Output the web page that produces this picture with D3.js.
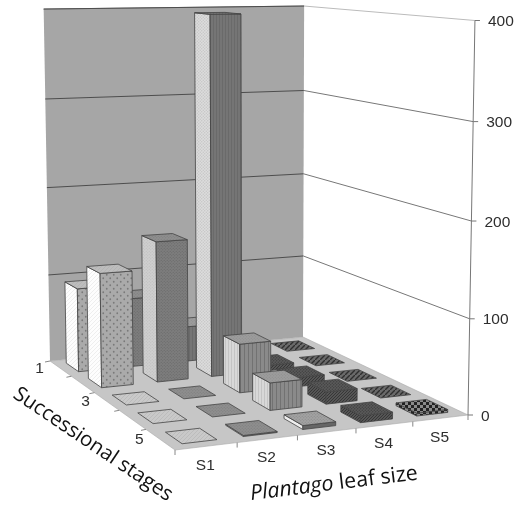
<!DOCTYPE html>
<html><head><meta charset="utf-8">
<script src="https://cdn.jsdelivr.net/npm/d3@7"></script>
<style>html,body{margin:0;padding:0;background:#fff}svg{display:block;filter:blur(0.35px)}</style></head>
<body><svg id="c" width="516" height="510"></svg>
<script>
const sizes = ["S1","S2","S3","S4","S5"];
const stages = ["1","2","3","4","5"];
const stageLabels = ["1","3","5"];
const yTicks = [0,100,200,300,400];
const valuesS1 = [94,125,0,0,0];
const valuesS2 = [78,155,0,0,1];
const valuesS3 = [40,398,53,29,4];
const valuesS4 = [0,6,10,13,7];
const valuesS5 = [0,0,0,0,3];
const series = [valuesS1,valuesS2,valuesS3,valuesS4,valuesS5];

const svg=d3.select("#c");
const defs=svg.append("defs");
function pat(id,size,bg,draw){
  const p=defs.append("pattern").attr("id",id).attr("patternUnits","userSpaceOnUse").attr("width",size).attr("height",size);
  p.append("rect").attr("width",size).attr("height",size).attr("fill",bg);
  draw(p);
}
const dots=(c,r,s)=>p=>{p.append("circle").attr("cx",s/4).attr("cy",s/4).attr("r",r).attr("fill",c);p.append("circle").attr("cx",3*s/4).attr("cy",3*s/4).attr("r",r).attr("fill",c);};
const vl=(c,s,w)=>p=>{p.append("rect").attr("width",w).attr("height",s).attr("fill",c);};
const diag=(c,s,w)=>p=>{p.append("path").attr("d",`M0,${s}L${s},0`).attr("stroke",c).attr("stroke-width",w);};
pat("a1",4,"#fdfdfd",diag("#e8e8e8",4,.7));
pat("a2",7,"#aaaaaa",dots("#7a7a7a",.9,7));
pat("aT",4,"#bdbdbd",diag("#b0b0b0",4,.7));
pat("aF",4,"#c9c9c9",diag("#b9b9b9",4,.8));
pat("b1",3,"#cfcfcf",dots("#bcbcbc",.6,3));
pat("b2",3,"#7d7d7d",dots("#666",.6,3));
pat("bF",3,"#8e8e8e",dots("#7d7d7d",.6,3));
pat("c1",3,"#dcdcdc",dots("#c4c4c4",.7,3));
pat("c2",3,"#757575",vl("#6a6a6a",3,1));
pat("d1",3,"#d8d8d8",vl("#c4c4c4",3,1));
pat("d2",4,"#8a8a8a",vl("#727272",4,1));
pat("dT",3,"#9c9c9c",dots("#8d8d8d",.6,3));
pat("e1",3,"#555",diag("#333",3,.9));
pat("eT",3,"#5a5a5a",dots("#3e3e3e",.7,3));
pat("eM",3,"#a2a2a2",dots("#888",.6,3));
pat("g",5,"#6a6a6a",diag("#2f2f2f",5,1.4));
pat("h",6,"#8a8a8a",p=>{p.append("rect").attr("width",3).attr("height",3).attr("fill","#222");p.append("rect").attr("x",3).attr("y",3).attr("width",3).attr("height",3).attr("fill","#222");});

const faceStyles = {
 "0,0":["a1","a2","aT"],"0,1":["a1","a2","aT"],"0,2":["a1","a1","aF"],"0,3":["a1","a1","aF"],"0,4":["a1","a1","aF"],
 "1,0":["b1","b2","bF"],"1,1":["b1","b2","bF"],"1,2":["b1","b2","bF"],"1,3":["b1","b2","bF"],"1,4":["b1","b2","bF"],
 "2,0":["c1","c2","dT"],"2,1":["c1","c2","c2"],"2,2":["d1","d2","dT"],"2,3":["d1","d2","dT"],"2,4":["#eee","#666","eM"],
 "3,0":["e1","e1","eT"],"3,1":["e1","e1","eT"],"3,2":["e1","e1","eT"],"3,3":["e1","e1","eT"],"3,4":["e1","e1","eT"],
 "4,0":["g","g","g"],"4,1":["g","g","g"],"4,2":["g","g","g"],"4,3":["g","g","g"],"4,4":["h","h","h"]
};

/* camera calibrated on the chart box */
const quad=[[50,361],[303,337],[468,415],[175,450]];
function homography(q){
  const [[x0,y0],[x1,y1],[x2,y2],[x3,y3]]=q;
  const dx1=x1-x2,dx2=x3-x2,sx=x0-x1+x2-x3,dy1=y1-y2,dy2=y3-y2,sy=y0-y1+y2-y3;
  const den=dx1*dy2-dx2*dy1;
  const g=(sx*dy2-dx2*sy)/den,h=(dx1*sy-sx*dy1)/den;
  return {a:x1-x0+g*x1,b:x3-x0+h*x3,c:x0,d:y1-y0+g*y1,e:y3-y0+h*y3,f:y0,g,h};
}
const M=homography(quad);
const tops=[[0,0,44,13,1],[1,0,303,9,1],[1,1,475,20,4]];
function solve3(A,b){
  const m=A.map((r,i)=>[...r,b[i]]);
  for(let i=0;i<3;i++){let p=i;for(let k=i+1;k<3;k++)if(Math.abs(m[k][i])>Math.abs(m[p][i]))p=k;[m[i],m[p]]=[m[p],m[i]];
    for(let k=0;k<3;k++)if(k!==i){const f=m[k][i]/m[i][i];for(let j=i;j<4;j++)m[k][j]-=f*m[i][j];}}
  return m.map((r,i)=>r[3]/r[i]);
}
const rows=[];const rhs=[];
tops.forEach(([u,v,x,y,wgt])=>{
  const X=M.a*u+M.b*v+M.c,Y=M.d*u+M.e*v+M.f,Wt=M.g*u+M.h*v+1;
  rows.push([wgt,0,-x*wgt]);rhs.push((x*Wt-X)*wgt);
  rows.push([0,wgt,-y*wgt]);rhs.push((y*Wt-Y)*wgt);
});
const ATA=[0,1,2].map(i=>[0,1,2].map(j=>d3.sum(rows,r=>r[i]*r[j])));
const ATb=[0,1,2].map(i=>d3.sum(rows,(r,k)=>r[i]*rhs[k]));
const [pA,pB,pC]=solve3(ATA,ATb);
function P(u,v,t){
  const w=M.g*u+M.h*v+1+pC*t;
  return [(M.a*u+M.b*v+M.c+pA*t)/w,(M.d*u+M.e*v+M.f+pB*t)/w];
}
const xBand=d3.scaleBand().domain(sizes).range([0,1]).paddingInner(0.435).paddingOuter(0.2175);
const zBand=d3.scaleBand().domain(stages).range([0,1]).paddingInner(0.435).paddingOuter(0.2175);
const yS=d3.scaleLinear().domain([0,400]).range([0,1]);
const poly=pts=>"M"+pts.map(p=>p.map(n=>n.toFixed(2)).join(",")).join("L")+"Z";
const line=(a,b)=>`M${a[0]},${a[1]}L${b[0]},${b[1]}`;
const g=svg.append("g");

g.append("path").attr("d",poly([P(0,0,0),P(1,0,0),P(1,0,1),P(0,0,1)])).attr("fill","#a6a6a6");
g.append("path").attr("d",poly([P(0,0,0),P(1,0,0),P(1,1,0),P(0,1,0)])).attr("fill","#c6c6c6").attr("stroke","#aaa").attr("stroke-width",.6);
g.append("path").attr("d",line(P(0,0,1),P(1,0,1))).attr("stroke","#8a8a8a").attr("stroke-width",1);
yTicks.filter(d=>d>0).forEach(d=>{
  const t=yS(d);
  g.append("path").attr("d",line(P(0,0,t),P(1,0,t))).attr("stroke","#4d4d4d").attr("stroke-width",1).attr("fill","none");
  g.append("path").attr("d",line(P(1,0,t),P(1,1,t))).attr("stroke",d===400?"#bbb":"#777").attr("stroke-width",1).attr("fill","none");
});
g.append("path").attr("d",line(P(1,1,0),P(1,1,1))).attr("stroke","#777").attr("stroke-width",1);
yTicks.forEach(d=>{
  const t=yS(d),p=P(1,1,t);
  g.append("path").attr("d",line(p,[p[0]+5,p[1]])).attr("stroke","#777");
  g.append("text").attr("x",p[0]+13).attr("y",p[1]+5.5).attr("font-family","Liberation Sans").attr("font-size",15.5).attr("fill","#2e2e2e").text(d);
});
sizes.forEach((s,i)=>{
  const p=P(i/5,1,0);
  g.append("path").attr("d",line(p,[p[0],p[1]+5])).attr("stroke","#888");
});
{const p=P(1,1,0);g.append("path").attr("d",line(p,[p[0],p[1]+5])).attr("stroke","#888");}
sizes.forEach(s=>{
  const u=xBand(s)+xBand.bandwidth()/2,p=P(u,1,0);
  g.append("text").attr("x",p[0]-1).attr("y",p[1]+23.5).attr("text-anchor","middle").attr("font-family","Liberation Sans").attr("font-size",15.5).attr("fill","#2e2e2e").text(s);
});
stages.forEach((s,i)=>{
  const p=P(0,i/5,0);
  g.append("path").attr("d",line(p,[p[0]-5,p[1]+1])).attr("stroke","#888");
});
stageLabels.forEach(s=>{
  const v=zBand(s)+zBand.bandwidth()/2,p=P(0,v,0);
  g.append("text").attr("x",p[0]-21).attr("y",p[1]+5).attr("text-anchor","middle").attr("font-family","Liberation Sans").attr("font-size",15.5).attr("fill","#2e2e2e").text(s);
});

const cells=[];
stages.forEach((st,r)=>{ for(let c=sizes.length-1;c>=0;c--) cells.push({c,r,val:series[c][r]}); });
const fill=k=>k.startsWith("#")?k:`url(#${k})`;
cells.forEach(d=>{
  const u0=xBand(sizes[d.c]),u1=u0+xBand.bandwidth(),v0=zBand(stages[d.r]),v1=v0+zBand.bandwidth(),t=yS(d.val);
  const st=faceStyles[d.c+","+d.r];
  const bg=g.append("g").attr("stroke","#444").attr("stroke-width",.8).attr("stroke-linejoin","round");
  if(d.val>0){
    bg.append("path").attr("d",poly([P(u0,v0,0),P(u0,v1,0),P(u0,v1,t),P(u0,v0,t)])).attr("fill",fill(st[0]));
    bg.append("path").attr("d",poly([P(u0,v1,0),P(u1,v1,0),P(u1,v1,t),P(u0,v1,t)])).attr("fill",fill(st[1]));
  }
  bg.append("path").attr("d",poly([P(u0,v0,t),P(u1,v0,t),P(u1,v1,t),P(u0,v1,t)])).attr("fill",fill(st[2]));
});

const tf="'Open Sans'";
svg.append("text").attr("transform","translate(12,397) rotate(34)").attr("font-family",tf).attr("font-size",20.5).attr("fill","#111").text("Successional stages");
const t2=svg.append("text").attr("transform","translate(251,500) rotate(-7)").attr("font-family",tf).attr("font-size",21.3).attr("fill","#111");
t2.append("tspan").attr("font-style","italic").text("Plantago");
t2.append("tspan").text(" leaf size");
</script></body></html>
